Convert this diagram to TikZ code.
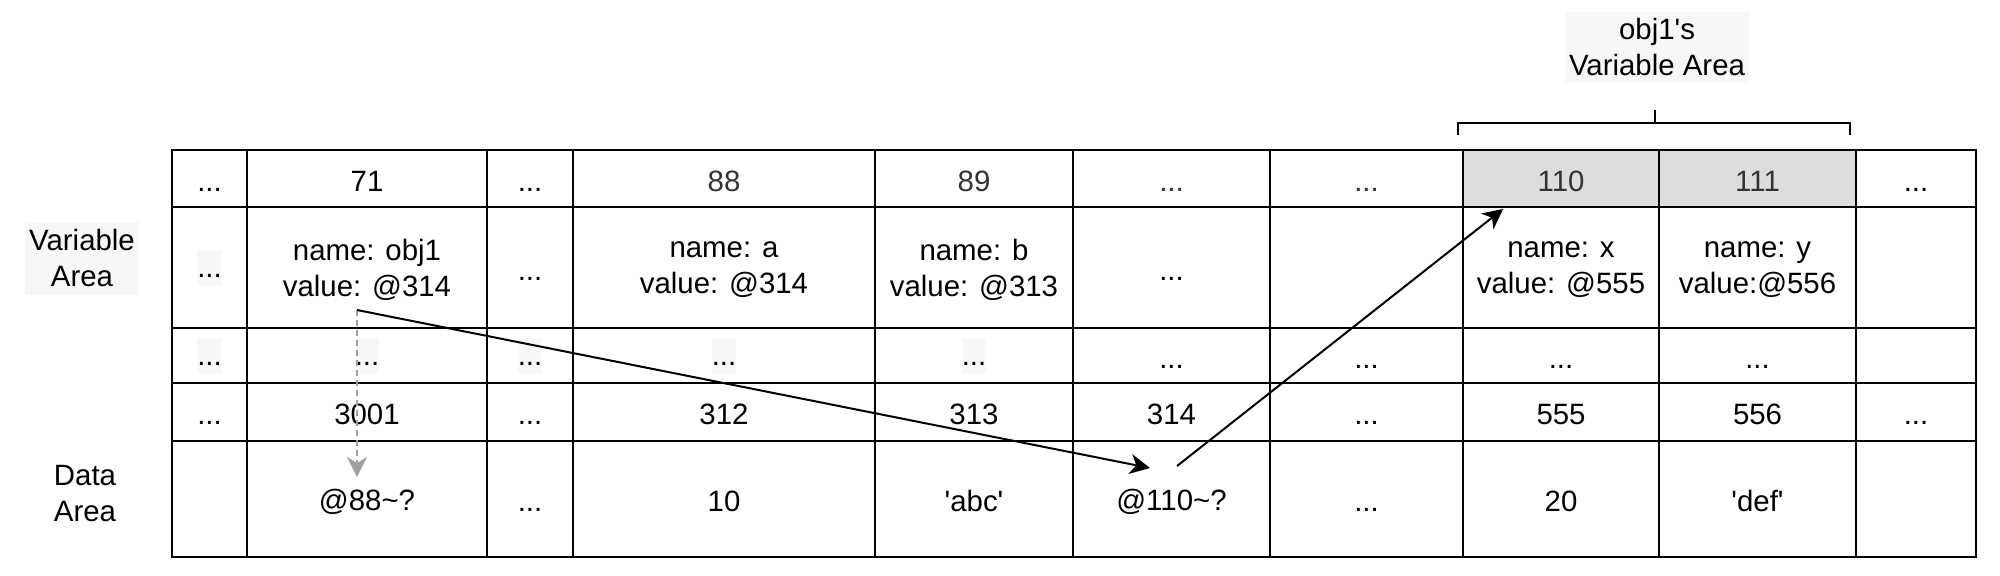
\documentclass[tikz,border=0pt]{standalone}
\usepackage{fontspec}
\setmainfont{Liberation Sans}
\usetikzlibrary{arrows.meta}
\definecolor{hdrgray}{HTML}{DDDDDD}
\definecolor{softbg}{HTML}{F5F7F9}
\definecolor{dimtext}{HTML}{333333}
\definecolor{dashgray}{HTML}{A0A0A0}
\newcommand\dd{\vphantom{0}...}
\newcommand\mcell[7][]{%
  \node[cellbox,#1,minimum width={(#4-#3)*0.5pt},minimum height={(#6-#5)*0.5pt}] (#2) at ({(#3+#4)/2},{(#5+#6)/2}) {};
  \node[celltext,#1,fill=none] (#2t) at ([yshift=-1.2pt]#2.center) {#7};}
\tikzset{
  cellbox/.style={draw=black,line width=1.2pt,rectangle,inner sep=0pt,outer sep=0pt},
  celltext/.style={inner sep=0pt,outer sep=0pt,align=center,font=\fontsize{14.7}{18}\selectfont},
  hdr/.style={fill=hdrgray,text=dimtext},
  dim/.style={text=dimtext},
  softlbl/.style={fill=softbg,inner sep=2pt,align=center,font=\fontsize{14.7}{18}\selectfont},
  dotsbg/.style={fill=softbg,inner sep=0pt,minimum width=9.5pt,minimum height=17.5pt,font=\fontsize{14.7}{18}\selectfont},
  ptr/.style={line width=1pt,-{Stealth[length=10pt,width=10pt,inset=3pt]}},
  dptr/.style={line width=1pt,color=dashgray,dash pattern=on 3pt off 2pt,
    -{Stealth[length=10pt,width=10pt,inset=3pt]}},
  brk/.style={line width=1pt}
}
\begin{document}
\begin{tikzpicture}[x=0.5pt,y=-0.5pt]
\useasboundingbox (0,0) rectangle (2000,575);
% columns: 172 247 487 573 875 1073 1270 1463 1659 1856 1976
% rows: 150 207 328 383 441 557
% row 1
\mcell{a0}{172}{247}{150}{207}{\dd}
\mcell{a1}{247}{487}{150}{207}{71}
\mcell{a2}{487}{573}{150}{207}{\dd}
\mcell[dim]{a3}{573}{875}{150}{207}{88}
\mcell[dim]{a4}{875}{1073}{150}{207}{89}
\mcell[dim]{a5}{1073}{1270}{150}{207}{\dd}
\mcell[dim]{a6}{1270}{1463}{150}{207}{\dd}
\mcell[hdr]{a7}{1463}{1659}{150}{207}{110}
\mcell[hdr]{a8}{1659}{1856}{150}{207}{111}
\mcell{a9}{1856}{1976}{150}{207}{\dd}
% row 2
\mcell{b0}{172}{247}{207}{328}{}
\mcell{b1}{247}{487}{207}{328}{name: obj1\\value: @314}
\mcell{b2}{487}{573}{207}{328}{\dd}
\mcell{b3}{573}{875}{207}{328}{name: a\\value: @314}
\mcell{b4}{875}{1073}{207}{328}{name: b\\value: @313}
\mcell{b5}{1073}{1270}{207}{328}{\dd}
\mcell{b6}{1270}{1463}{207}{328}{}
\mcell{b7}{1463}{1659}{207}{328}{name: x\\value: @555}
\mcell{b8}{1659}{1856}{207}{328}{name: y\\value:@556}
\mcell{b9}{1856}{1976}{207}{328}{}
% row 3
\mcell{c0}{172}{247}{328}{383}{}
\mcell{c1}{247}{487}{328}{383}{}
\mcell{c2}{487}{573}{328}{383}{}
\mcell{c3}{573}{875}{328}{383}{}
\mcell{c4}{875}{1073}{328}{383}{}
\mcell{c5}{1073}{1270}{328}{383}{\dd}
\mcell{c6}{1270}{1463}{328}{383}{\dd}
\mcell{c7}{1463}{1659}{328}{383}{\dd}
\mcell{c8}{1659}{1856}{328}{383}{\dd}
\mcell{c9}{1856}{1976}{328}{383}{}
% row 4
\mcell{d0}{172}{247}{383}{441}{\dd}
\mcell{d1}{247}{487}{383}{441}{3001}
\mcell{d2}{487}{573}{383}{441}{\dd}
\mcell{d3}{573}{875}{383}{441}{312}
\mcell{d4}{875}{1073}{383}{441}{313}
\mcell{d5}{1073}{1270}{383}{441}{314}
\mcell{d6}{1270}{1463}{383}{441}{\dd}
\mcell{d7}{1463}{1659}{383}{441}{555}
\mcell{d8}{1659}{1856}{383}{441}{556}
\mcell{d9}{1856}{1976}{383}{441}{\dd}
% row 5
\mcell{e0}{172}{247}{441}{557}{}
\mcell{e1}{247}{487}{441}{557}{@88\textasciitilde?}
\mcell{e2}{487}{573}{441}{557}{\dd}
\mcell{e3}{573}{875}{441}{557}{10}
\mcell{e4}{875}{1073}{441}{557}{\textquotesingle abc\textquotesingle}
\mcell{e5}{1073}{1270}{441}{557}{@110\textasciitilde?}
\mcell{e6}{1270}{1463}{441}{557}{\dd}
\mcell{e7}{1463}{1659}{441}{557}{20}
\mcell{e8}{1659}{1856}{441}{557}{\textquotesingle def\textquotesingle}
\mcell{e9}{1856}{1976}{441}{557}{}
% soft-background dots
\node[dotsbg] (sb0) at (b0.center) {\dd};
\node[dotsbg] (sc0) at (c0.center) {\dd};
\node[dotsbg] (sc1) at (c1.center) {\dd};
\node[dotsbg] (sc2) at (c2.center) {\dd};
\node[dotsbg] (sc3) at (c3.center) {\dd};
\node[dotsbg] (sc4) at (c4.center) {\dd};
% side labels
\node[softlbl,minimum width=54pt,minimum height=36.5pt] (lvar) at (82,258) {Variable\\Area};
\node[align=center,font=\fontsize{14.7}{18}\selectfont] (ldata) at (85,494) {Data\\Area};
\node[softlbl,minimum width=89pt,minimum height=35.5pt] (lobj) at (1657,47) {obj1\textquotesingle s\\Variable Area};
% bracket
\coordinate (bl) at (1458,135);
\coordinate (br) at (1850,135);
\coordinate (bm) at (1655,123);
\coordinate (bt) at (1655,110);
\draw[brk] (bl) -- (bl |- bm) -- (br |- bm) -- (br);
\draw[brk] (bm) -- (bt);
% arrows
\coordinate (s1) at (357,310);
\coordinate (t1) at (1150,468);
\coordinate (t2) at (357,477);
\coordinate (s3) at (1177,466);
\coordinate (t3) at (1503,209);
\draw[dptr] (s1) -- (t2);
\draw[ptr] (s1) -- (t1);
\draw[ptr] (s3) -- (t3);
\end{tikzpicture}
\end{document}
